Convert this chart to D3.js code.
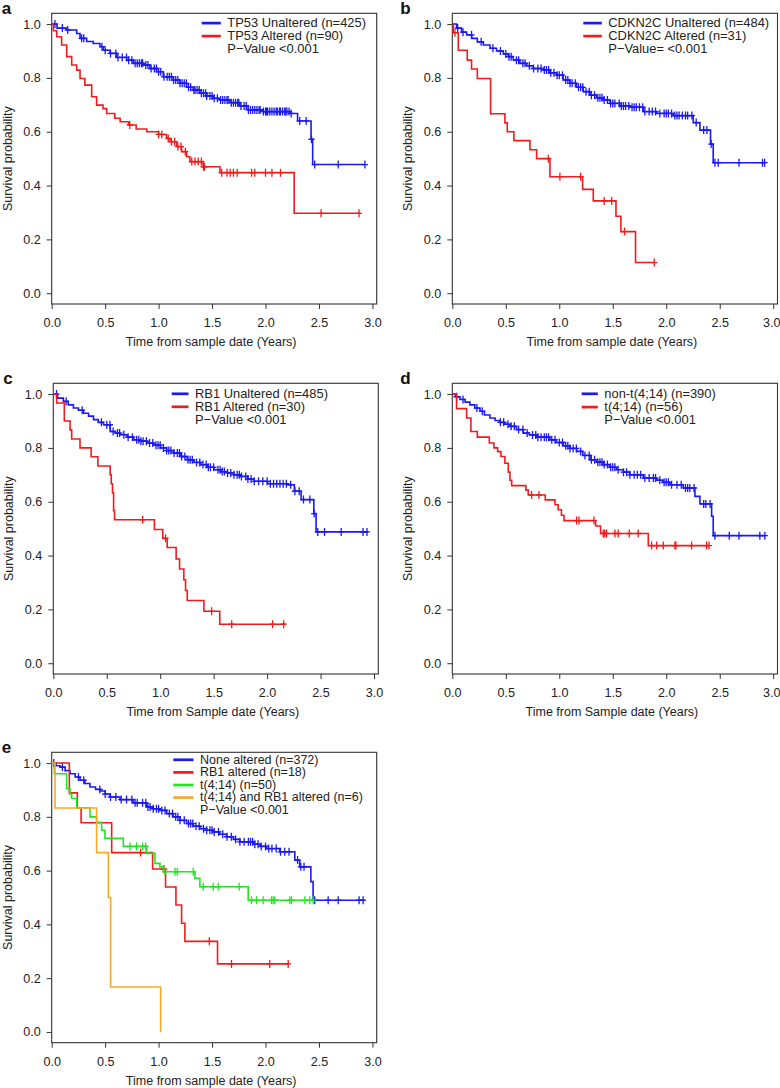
<!DOCTYPE html>
<html>
<head>
<meta charset="utf-8">
<script src="https://cdn.jsdelivr.net/npm/d3@7/dist/d3.min.js"></script>
<style>
  body { margin: 0; background: #fff; }
  svg text { font-family: "Liberation Sans", Arial, sans-serif; }
</style>
</head>
<body>
<div id="G"></div>
<script>
// tick values shared by all five panels
var xTicks = [0, 0.5, 1.0, 1.5, 2.0, 2.5, 3.0];
var yTicks = [0, 0.2, 0.4, 0.6, 0.8, 1.0];

// ---- panel a : TP53 ----
var aLabels = ["TP53 Unaltered (n=425)", "TP53 Altered (n=90)", "P\u2212Value <0.001"];
var aBlue = [[0,1],[0.05,0.985],[0.14,0.978],[0.234,0.965],[0.265,0.947],[0.327,0.935],[0.389,0.928],[0.452,0.916],[0.483,0.903],[0.545,0.891],[0.607,0.876],[0.701,0.866],[0.763,0.854],[0.857,0.848],[0.919,0.835],[0.981,0.823],[1.044,0.804],[1.137,0.792],[1.199,0.78],[1.262,0.765],[1.324,0.755],[1.386,0.743],[1.449,0.733],[1.511,0.724],[1.573,0.718],[1.667,0.708],[1.76,0.696],[1.838,0.681],[1.978,0.675],[2.227,0.668],[2.3,0.64],[2.426,0.572],[2.441,0.478],[2.928,0.478]];
var aBlueCensor = [0.03,0.1,0.15,0.28,0.3,0.47,0.5,0.55,0.6,0.62,0.66,0.7,0.72,0.75,0.78,0.8,0.82,0.84,0.85,0.88,0.9,0.93,0.96,0.98,1.0,1.02,1.05,1.08,1.1,1.12,1.14,1.16,1.18,1.2,1.22,1.24,1.26,1.28,1.3,1.33,1.34,1.36,1.38,1.4,1.42,1.44,1.45,1.48,1.5,1.52,1.55,1.58,1.6,1.62,1.64,1.65,1.68,1.7,1.72,1.74,1.75,1.77,1.8,1.82,1.84,1.86,1.88,1.9,1.92,1.94,1.95,1.98,2.0,2.01,2.02,2.04,2.06,2.08,2.1,2.11,2.13,2.14,2.16,2.18,2.19,2.2,2.22,2.24,2.32,2.38,2.43,2.46,2.68,2.93];
var aRed = [[0,1],[0.016,0.975],[0.047,0.953],[0.093,0.922],[0.14,0.879],[0.187,0.848],[0.234,0.829],[0.265,0.798],[0.31,0.773],[0.374,0.73],[0.42,0.699],[0.48,0.686],[0.514,0.668],[0.59,0.65],[0.64,0.637],[0.72,0.625],[0.79,0.61],[0.89,0.6],[1.0,0.59],[1.075,0.575],[1.106,0.563],[1.168,0.545],[1.215,0.526],[1.262,0.507],[1.293,0.489],[1.417,0.47],[1.573,0.448],[2.268,0.297],[2.875,0.297]];
var aRedCensor = [0.73,1.0,1.03,1.09,1.12,1.15,1.18,1.21,1.25,1.31,1.34,1.37,1.4,1.42,1.43,1.59,1.64,1.67,1.7,1.735,1.87,1.9,2.0,2.06,2.14,2.52,2.875];

// ---- panel b : CDKN2C ----
var bLabels = ["CDKN2C Unaltered (n=484)", "CDKN2C Altered (n=31)", "P\u2212Value= <0.001"];
var bBlue = [[0,1],[0.04,0.985],[0.087,0.97],[0.134,0.96],[0.181,0.947],[0.234,0.934],[0.29,0.922],[0.352,0.91],[0.414,0.9],[0.477,0.889],[0.523,0.879],[0.57,0.866],[0.632,0.854],[0.695,0.845],[0.757,0.835],[0.85,0.829],[0.913,0.819],[0.975,0.81],[1.037,0.792],[1.1,0.78],[1.162,0.765],[1.224,0.749],[1.287,0.736],[1.349,0.726],[1.411,0.718],[1.474,0.705],[1.567,0.696],[1.66,0.691],[1.785,0.675],[1.91,0.668],[2.065,0.66],[2.252,0.634],[2.315,0.606],[2.414,0.554],[2.439,0.485],[2.922,0.485]];
var bBlueCensor = [0.05,0.1,0.18,0.27,0.38,0.45,0.5,0.53,0.55,0.6,0.62,0.66,0.68,0.72,0.76,0.8,0.83,0.86,0.88,0.9,0.92,0.95,0.98,1.0,1.03,1.06,1.08,1.1,1.12,1.15,1.18,1.2,1.22,1.25,1.28,1.3,1.33,1.36,1.38,1.4,1.42,1.45,1.48,1.5,1.52,1.56,1.58,1.6,1.62,1.65,1.68,1.7,1.72,1.75,1.78,1.8,1.84,1.87,1.9,1.94,1.98,2.0,2.02,2.05,2.08,2.1,2.12,2.15,2.18,2.2,2.24,2.28,2.35,2.38,2.42,2.455,2.486,2.68,2.9,2.92];
var bRed = [[0,1],[0.01,0.968],[0.056,0.903],[0.14,0.866],[0.18,0.833],[0.234,0.798],[0.358,0.667],[0.492,0.633],[0.514,0.6],[0.576,0.567],[0.726,0.533],[0.788,0.5],[0.913,0.433],[1.218,0.386],[1.318,0.343],[1.53,0.286],[1.576,0.229],[1.713,0.114],[1.888,0.114]];
var bRedCensor = [0.025,0.897,1.006,1.2,1.42,1.49,1.61,1.888];

// ---- panel c : RB1 ----
var cLabels = ["RB1 Unaltered (n=485)", "RB1 Altered (n=30)", "P\u2212Value <0.001"];
var cBlue = [[0,1],[0.04,0.985],[0.094,0.973],[0.14,0.96],[0.188,0.948],[0.235,0.94],[0.282,0.929],[0.33,0.918],[0.376,0.905],[0.42,0.895],[0.47,0.886],[0.532,0.861],[0.58,0.855],[0.626,0.849],[0.69,0.84],[0.752,0.83],[0.81,0.825],[0.877,0.818],[0.94,0.81],[1.002,0.8],[1.06,0.79],[1.127,0.781],[1.19,0.768],[1.253,0.756],[1.315,0.746],[1.378,0.738],[1.44,0.728],[1.503,0.719],[1.566,0.712],[1.629,0.707],[1.69,0.7],[1.754,0.694],[1.82,0.684],[1.879,0.676],[2.004,0.667],[2.192,0.663],[2.255,0.639],[2.318,0.608],[2.437,0.556],[2.458,0.488],[2.944,0.488]];
var cBlueCensor = [0.03,0.12,0.27,0.45,0.5,0.53,0.56,0.6,0.62,0.66,0.7,0.74,0.78,0.8,0.82,0.84,0.87,0.9,0.93,0.96,0.98,1.0,1.03,1.06,1.08,1.1,1.13,1.16,1.18,1.2,1.23,1.26,1.28,1.3,1.34,1.37,1.4,1.43,1.45,1.47,1.5,1.54,1.56,1.58,1.6,1.63,1.66,1.69,1.72,1.74,1.76,1.8,1.82,1.85,1.88,1.92,1.96,2.0,2.03,2.06,2.09,2.12,2.15,2.18,2.22,2.26,2.3,2.34,2.4,2.44,2.474,2.537,2.693,2.897,2.934];
var cRed = [[0,1],[0.031,0.967],[0.103,0.9],[0.157,0.867],[0.172,0.833],[0.25,0.8],[0.354,0.767],[0.417,0.733],[0.532,0.7],[0.542,0.667],[0.554,0.633],[0.564,0.567],[0.573,0.533],[0.946,0.497],[1.024,0.464],[1.065,0.43],[1.149,0.387],[1.181,0.35],[1.221,0.31],[1.237,0.27],[1.253,0.233],[1.409,0.193],[1.557,0.145],[2.177,0.145]];
var cRedCensor = [0.836,1.05,1.481,1.669,2.051,2.155];

// ---- panel d : t(4;14) ----
var dLabels = ["non-t(4;14) (n=390)", "t(4;14) (n=56)", "P\u2212Value <0.001"];
var dBlue = [[0,1],[0.03,0.99],[0.072,0.98],[0.12,0.97],[0.165,0.96],[0.21,0.948],[0.259,0.936],[0.3,0.922],[0.352,0.911],[0.4,0.902],[0.445,0.895],[0.49,0.888],[0.539,0.88],[0.6,0.868],[0.664,0.855],[0.72,0.848],[0.788,0.84],[0.913,0.83],[0.97,0.82],[1.037,0.808],[1.1,0.798],[1.162,0.787],[1.22,0.772],[1.287,0.756],[1.35,0.747],[1.411,0.738],[1.47,0.728],[1.536,0.719],[1.6,0.71],[1.66,0.7],[1.785,0.688],[1.91,0.68],[1.97,0.672],[2.034,0.663],[2.159,0.651],[2.268,0.62],[2.315,0.592],[2.424,0.546],[2.439,0.474],[2.922,0.474]];
var dBlueCensor = [0.04,0.1,0.23,0.28,0.45,0.48,0.52,0.55,0.58,0.62,0.66,0.7,0.75,0.78,0.8,0.83,0.86,0.88,0.9,0.93,0.96,1.0,1.03,1.06,1.08,1.1,1.13,1.16,1.2,1.24,1.28,1.3,1.33,1.36,1.38,1.4,1.42,1.45,1.48,1.5,1.52,1.55,1.6,1.63,1.66,1.7,1.73,1.76,1.8,1.84,1.88,1.9,1.94,1.98,2.0,2.02,2.05,2.1,2.14,2.18,2.2,2.22,2.26,2.35,2.37,2.41,2.455,2.589,2.68,2.875,2.922];
var dRed = [[0,1],[0.04,0.946],[0.134,0.911],[0.174,0.861],[0.234,0.84],[0.346,0.818],[0.389,0.8],[0.424,0.786],[0.455,0.768],[0.492,0.743],[0.523,0.71],[0.539,0.68],[0.555,0.66],[0.688,0.643],[0.71,0.625],[0.869,0.607],[0.96,0.589],[0.99,0.57],[1.02,0.55],[1.044,0.53],[1.34,0.51],[1.386,0.482],[1.832,0.437],[2.4,0.437]];
var dRedCensor = [0.741,0.81,1.162,1.184,1.324,1.411,1.425,1.442,1.52,1.551,1.654,1.738,1.863,1.91,1.972,2.081,2.09,2.237,2.377,2.4];

// ---- panel e : combined ----
var eLabels = ["None altered (n=372)", "RB1 altered (n=18)", "t(4;14) (n=50)", "t(4;14) and RB1 altered (n=6)", "P\u2212Value <0.001"];
var eBlue = [[0,1],[0.04,0.99],[0.078,0.985],[0.125,0.972],[0.171,0.96],[0.22,0.948],[0.265,0.936],[0.31,0.924],[0.358,0.911],[0.41,0.902],[0.452,0.896],[0.5,0.885],[0.545,0.874],[0.639,0.864],[0.763,0.852],[0.888,0.837],[0.95,0.83],[1.012,0.824],[1.075,0.812],[1.137,0.8],[1.2,0.787],[1.262,0.775],[1.324,0.765],[1.386,0.756],[1.45,0.75],[1.511,0.744],[1.57,0.735],[1.636,0.726],[1.7,0.716],[1.76,0.707],[1.885,0.698],[1.95,0.69],[2.01,0.682],[2.134,0.67],[2.274,0.639],[2.32,0.614],[2.424,0.559],[2.445,0.49],[2.928,0.49]];
var eBlueCensor = [0.02,0.1,0.25,0.3,0.45,0.5,0.55,0.6,0.65,0.7,0.75,0.78,0.8,0.85,0.88,0.9,0.92,0.95,0.98,1.0,1.03,1.06,1.1,1.13,1.16,1.18,1.2,1.24,1.28,1.3,1.32,1.35,1.38,1.42,1.45,1.48,1.5,1.52,1.56,1.6,1.64,1.68,1.72,1.76,1.8,1.84,1.86,1.88,1.9,1.93,1.96,2.0,2.03,2.06,2.1,2.14,2.18,2.22,2.3,2.33,2.36,2.46,2.586,2.68,2.875,2.913];
var eRed = [[0,1],[0.165,0.889],[0.24,0.833],[0.275,0.778],[0.561,0.667],[0.944,0.606],[1.065,0.539],[1.162,0.472],[1.215,0.404],[1.246,0.337],[1.551,0.253],[2.22,0.253]];
var eRedCensor = [0.832,1.05,1.474,1.682,2.04,2.212];
var eGreen = [[0,1],[0.025,0.96],[0.14,0.905],[0.171,0.884],[0.187,0.868],[0.234,0.834],[0.358,0.8],[0.42,0.78],[0.467,0.75],[0.498,0.72],[0.67,0.69],[0.888,0.664],[0.966,0.627],[1.012,0.614],[1.044,0.596],[1.34,0.571],[1.386,0.54],[1.838,0.49],[2.445,0.49]];
var eGreenCensor = [0.732,0.794,0.85,0.879,1.06,1.153,1.174,1.324,1.417,1.511,1.558,1.754,1.869,1.916,1.978,2.056,2.072,2.087,2.227,2.243,2.368,2.414,2.445];
var eOrange = [[0,1],[0.031,0.833],[0.42,0.667],[0.53,0.5],[0.551,0.167],[1.019,0]];
var eOrangeCensor = [];

var BLUE = "#1a1aee", RED = "#ee1c1c", GREEN = "#22e622", ORANGE = "#f7a82a";

var svg = d3.select("#G")
  .append("svg")
  .attr("width", 780)
  .attr("height", 1088);

// survival value of a step curve at time t
function SurvAt(steps, t) {
  var s = steps[0][1];
  for (var i = 0; i < steps.length; i++) {
    if (steps[i][0] <= t) s = steps[i][1];
  }
  return s;
}

function Panel(p) {
  var x = d3.scaleLinear().domain([0, 3.04]).range([p.left, p.right]);
  var y = d3.scaleLinear().domain([-0.04, 1.04]).range([p.bottom, p.top]);
  var g = svg.append("g");

  // X - axis
  var ax = g.append("g")
    .attr("transform", "translate(0," + p.bottom + ")")
    .call(d3.axisBottom(x).tickValues(xTicks).tickFormat(d3.format(".1f"))
      .tickSize(5).tickSizeOuter(0).tickPadding(9));
  // Y - axis
  var ay = g.append("g")
    .attr("transform", "translate(" + p.left + ",0)")
    .call(d3.axisLeft(y).tickValues(yTicks).tickFormat(d3.format(".1f"))
      .tickSize(5).tickSizeOuter(0).tickPadding(6));
  [ax, ay].forEach(function (a) {
    a.select(".domain").remove();
    a.selectAll("line").attr("stroke", "#333");
    a.selectAll("text").attr("font-size", 12.6).attr("fill", "#222")
      .attr("font-family", "'Liberation Sans', Arial, sans-serif");
  });
  // keep the last x label inside the page on the right-hand panels
  if (p.right > 770) {
    ax.selectAll(".tick:last-of-type text").attr("dx", -2);
  }

  // box
  g.append("rect")
    .attr("x", p.left).attr("y", p.top)
    .attr("width", p.right - p.left).attr("height", p.bottom - p.top)
    .attr("fill", "none").attr("stroke", "#333").attr("stroke-width", 1.1);

  // titles
  g.append("text")
    .attr("x", (p.left + p.right) / 2 - 3).attr("y", p.bottom + 42)
    .attr("text-anchor", "middle").attr("font-size", 12.5).attr("fill", "#222")
    .text(p.xTitle);
  g.append("text")
    .attr("transform", "translate(" + (p.left - 40) + "," + ((p.top + p.bottom) / 2) + ") rotate(-90)")
    .attr("text-anchor", "middle").attr("font-size", 12.5).attr("fill", "#222")
    .text("Survival probability");
  g.append("text")
    .attr("x", p.left - p.letterOff).attr("y", p.top + 0.5)
    .attr("font-size", 17).attr("font-weight", "bold").attr("fill", "#111")
    .text(p.letter);

  // curves
  var line = d3.line()
    .x(function (d) { return x(d[0]) })
    .y(function (d) { return y(d[1]) })
    .curve(d3.curveStepAfter);

  p.series.forEach(function (s) {
    g.append("path")
      .datum(s.steps)
      .attr("fill", "none")
      .attr("stroke", s.color)
      .attr("stroke-width", 1.6)
      .attr("d", line);
    g.selectAll(null)
      .data(s.censor)
      .enter()
      .append("path")
      .attr("fill", "none")
      .attr("stroke", s.color)
      .attr("stroke-width", 1.3)
      .attr("d", function (t) {
        var cx = x(t), cy = y(SurvAt(s.steps, t));
        return "M" + (cx - 3) + "," + cy + "H" + (cx + 3) + "M" + cx + "," + (cy - 4) + "V" + (cy + 4);
      });
  });

  // legend
  var lg = g.append("g");
  p.labels.forEach(function (lab, i) {
    var ly = p.top + p.legTop + i * p.legStep;
    if (i < p.series.length) {
      lg.append("line")
        .attr("x1", p.left + p.legLine).attr("x2", p.left + p.legText - 6.5)
        .attr("y1", ly + 0.5).attr("y2", ly + 0.5)
        .attr("stroke", p.series[i].color).attr("stroke-width", 2.7);
    }
    lg.append("text")
      .attr("x", p.left + p.legText).attr("y", ly).attr("dy", "0.35em")
      .attr("font-size", p.legFont).attr("fill", "#222")
      .text(lab);
  });
}

Panel({ letter: "a", letterOff: 50, left: 51.7, right: 376.7, top: 13.3, bottom: 304,
  xTitle: "Time from sample date (Years)", labels: aLabels,
  legTop: 9.3, legStep: 13, legLine: 150, legText: 175.6, legFont: 12.9,
  series: [{ steps: aBlue, censor: aBlueCensor, color: BLUE },
           { steps: aRed, censor: aRedCensor, color: RED }] });

Panel({ letter: "b", letterOff: 52, left: 452.3, right: 777.5, top: 13.3, bottom: 304,
  xTitle: "Time from sample date (Years)", labels: bLabels,
  legTop: 9.3, legStep: 13, legLine: 131, legText: 156, legFont: 12.9,
  series: [{ steps: bBlue, censor: bBlueCensor, color: BLUE },
           { steps: bRed, censor: bRedCensor, color: RED }] });

Panel({ letter: "c", letterOff: 50, left: 53.3, right: 378.3, top: 383.3, bottom: 674,
  xTitle: "Time from Sample date (Years)", labels: cLabels,
  legTop: 10, legStep: 13, legLine: 118.4, legText: 141.7, legFont: 12.9,
  series: [{ steps: cBlue, censor: cBlueCensor, color: BLUE },
           { steps: cRed, censor: cRedCensor, color: RED }] });

Panel({ letter: "d", letterOff: 52, left: 452.3, right: 777.5, top: 383.3, bottom: 674,
  xTitle: "Time from Sample date (Years)", labels: dLabels,
  legTop: 10, legStep: 13.3, legLine: 129.4, legText: 152, legFont: 12.9,
  series: [{ steps: dBlue, censor: dBlueCensor, color: BLUE },
           { steps: dRed, censor: dRedCensor, color: RED }] });

Panel({ letter: "e", letterOff: 50, left: 51.7, right: 376.7, top: 752.3, bottom: 1042.7,
  xTitle: "Time from sample date (Years)", labels: eLabels,
  legTop: 7, legStep: 12.6, legLine: 121.6, legText: 148.3, legFont: 12.5,
  series: [{ steps: eBlue, censor: eBlueCensor, color: BLUE },
           { steps: eRed, censor: eRedCensor, color: RED },
           { steps: eGreen, censor: eGreenCensor, color: GREEN },
           { steps: eOrange, censor: eOrangeCensor, color: ORANGE }] });
</script>
</body>
</html>
